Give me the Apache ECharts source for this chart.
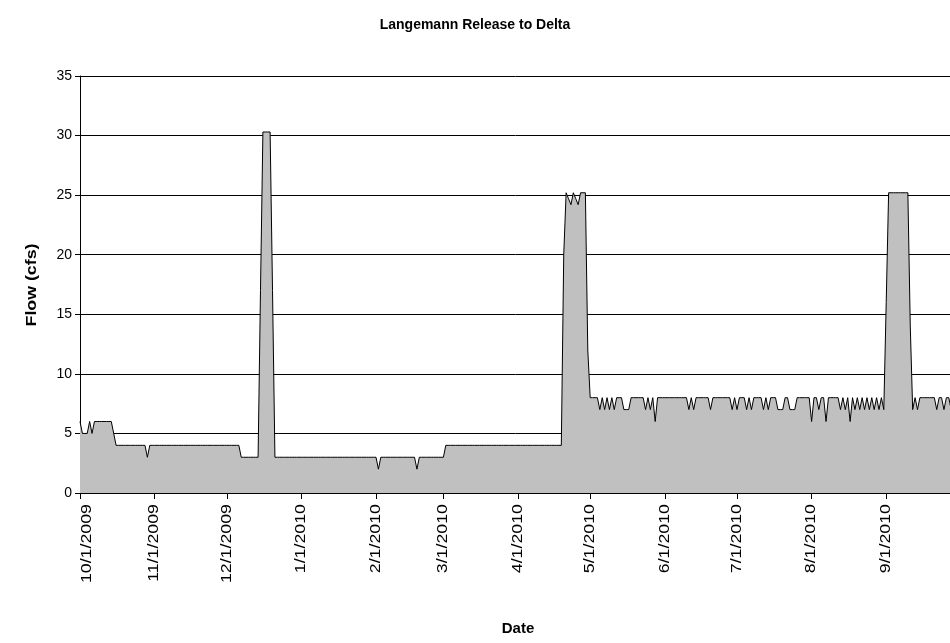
<!DOCTYPE html>
<html>
<head>
<meta charset="utf-8">
<script src="https://cdn.jsdelivr.net/npm/echarts@6/dist/echarts.min.js"></script>
<style>
  html, body { margin: 0; padding: 0; background: #fff; }
  #chart { width: 950px; height: 643px; }
</style>
</head>
<body>
<div id="chart"></div>
<script>
// Daily release (cfs), water year 10/1/2009 - 9/30/2010, one array per month
const oct2009 = [6,5,5,5,6,5,6,6,6,6,6,6,6,6,5,4,4,4,4,4,4,4,4,4,4,4,4,4,3,4,4];
const nov2009 = [4,4,4,4,4,4,4,4,4,4,4,4,4,4,4,4,4,4,4,4,4,4,4,4,4,4,4,4,4,4];
const dec2009 = [4,4,4,4,4,4,3,3,3,3,3,3,3,3,17,30.3,30.3,30.3,30.3,17,3,3,3,3,3,3,3,3,3,3,3];
const jan2010 = [3,3,3,3,3,3,3,3,3,3,3,3,3,3,3,3,3,3,3,3,3,3,3,3,3,3,3,3,3,3,3];
const feb2010 = [3,2,3,3,3,3,3,3,3,3,3,3,3,3,3,3,3,2,3,3,3,3,3,3,3,3,3,3];
const mar2010 = [3,4,4,4,4,4,4,4,4,4,4,4,4,4,4,4,4,4,4,4,4,4,4,4,4,4,4,4,4,4,4];
const apr2010 = [4,4,4,4,4,4,4,4,4,4,4,4,4,4,4,4,4,4,4,20,25.2,24.7,24.2,25.2,24.7,24.2,25.2,25.2,25.2,12];
const may2010 = [8,8,8,8,7,8,7,8,7,8,7,8,8,8,7,7,7,8,8,8,8,8,8,7,8,7,8,6,8,8,8];
const jun2010 = [8,8,8,8,8,8,8,8,8,8,7,8,7,8,8,8,8,8,8,7,8,8,8,8,8,8,8,8,7,8];
const jul2010 = [7,8,8,8,7,8,7,8,8,8,8,7,8,7,8,8,8,7,7,7,8,8,7,7,7,8,8,8,8,8,8];
const aug2010 = [6,8,8,7,8,8,6,8,8,8,8,8,7,8,7,8,6,8,7,8,7,8,7,8,7,8,7,8,7,8,7];
const sep2010 = [16,25.2,25.2,25.2,25.2,25.2,25.2,25.2,25.2,25.2,14,7,8,7,8,8,8,8,8,8,8,7,8,8,7,8,8,7,8,8];

const flow = [].concat(oct2009, nov2009, dec2009, jan2010, feb2010, mar2010,
                       apr2010, may2010, jun2010, jul2010, aug2010, sep2010);

// Category labels M/D/YYYY, one per day starting 10/1/2009
const dates = [];
for (let i = 0; i < flow.length; i++) {
  const d = new Date(2009, 9, 1 + i);
  dates.push((d.getMonth() + 1) + '/' + d.getDate() + '/' + d.getFullYear());
}
const isMonthStart = (idx, val) => val.split('/')[1] === '1';

const yTicks = { min: 0, max: 35, interval: 5 };

const font = "'Liberation Sans', Arial, sans-serif";
const chart = echarts.init(document.getElementById('chart'), null, { renderer: 'canvas' });
chart.setOption({
  animation: false,
  backgroundColor: '#ffffff',
  title: {
    text: 'Langemann Release to Delta',
    left: 'center',
    top: 13,
    textStyle: { fontFamily: font, fontSize: 14, fontWeight: 'bold', color: '#000' }
  },
  grid: {
    left: 80, top: 76, width: 876, bottom: 150,
    containLabel: false, outerBoundsMode: 'none'
  },
  xAxis: {
    type: 'category',
    data: dates,
    boundaryGap: false,
    name: 'Date',
    nameLocation: 'middle',
    nameGap: 128,
    nameTextStyle: { fontFamily: font, fontSize: 15, fontWeight: 'bold', color: '#000' },
    axisLine: { lineStyle: { color: '#000', width: 1 } },
    axisTick: { show: true, interval: isMonthStart, length: 6, lineStyle: { color: '#000' } },
    axisLabel: { show: false },
    splitLine: { show: false }
  },
  yAxis: {
    type: 'value',
    min: yTicks.min, max: yTicks.max, interval: yTicks.interval,
    axisLine: { show: true, lineStyle: { color: '#000', width: 1 } },
    axisTick: { show: true, length: 5, lineStyle: { color: '#000' } },
    axisLabel: { margin: 8, fontFamily: font, fontSize: 14, color: '#000' },
    splitLine: { show: true, lineStyle: { color: '#000', width: 1 } }
  },
  series: [{
    type: 'line',
    data: flow,
    symbol: 'none',
    lineStyle: { color: '#000', width: 1 },
    areaStyle: { color: '#c0c0c0', opacity: 1 }
  }]
});

// Vertical texts are drawn slightly stretched along their reading direction
const stretch = 1.27;
const graphics = [{
  type: 'text',
  x: 32, y: 285,
  rotation: Math.PI / 2,
  scaleX: stretch,
  style: {
    text: 'Flow (cfs)', fill: '#000',
    font: 'bold 14px ' + font,
    align: 'center', verticalAlign: 'middle'
  }
}];
// Month-start date labels, placed at the category axis positions;
// the first one is nudged right so it sits inside the plot's left edge
dates.forEach((label, idx) => {
  if (!isMonthStart(idx, label)) return;
  const px = chart.convertToPixel({ xAxisIndex: 0 }, idx) + (idx === 0 ? 7 : 0);
  graphics.push({
    type: 'text',
    x: px, y: 504,
    rotation: Math.PI / 2,
    scaleX: stretch,
    style: {
      text: label, fill: '#000',
      font: '14px ' + font,
      align: 'right', verticalAlign: 'middle'
    }
  });
});
chart.setOption({ graphic: graphics });
</script>
</body>
</html>
